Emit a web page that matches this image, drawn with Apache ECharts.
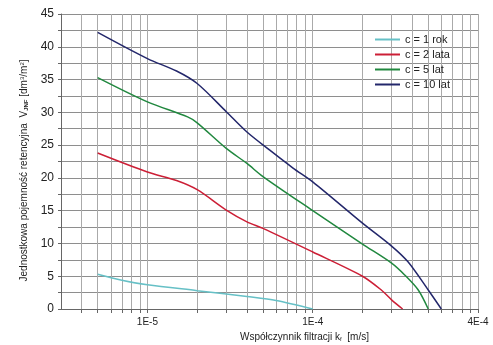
<!DOCTYPE html>
<html>
<head>
<meta charset="utf-8">
<script src="https://cdn.jsdelivr.net/npm/echarts@6/dist/echarts.min.js"></script>
<style>
    html, body { margin: 0; padding: 0; background: #fff; }
    #main { width: 493px; height: 345px; }
</style>
</head>
<body>
<div id="main"></div>
<script>
// dane: [k_f (m/s), V_JNF (dm3/m2)]
var seriesNames = ['c = 1 rok', 'c = 2 lata', 'c = 5 lat', 'c = 10 lat'];
var seriesColors = ['#66c0c6', '#cc1f36', '#21883f', '#23276b'];

var c1 = [[5e-6, 5.3], [7e-6, 4.4], [1e-5, 3.7], [2e-5, 2.8], [4e-5, 1.9], [6e-5, 1.3], [1e-4, 0]];
var c2 = [[5e-6, 23.8], [1e-5, 20.9], [1.5e-5, 19.6], [2e-5, 18.2], [3e-5, 15.1], [4e-5, 13.3], [5e-5, 12.3],
          [1e-4, 8.7], [2e-4, 5.0], [2.6e-4, 2.9], [3e-4, 1.4], [3.5e-4, 0]];
var c5 = [[5e-6, 35.3], [1e-5, 31.6], [1.75e-5, 29.3], [2e-5, 28.4], [3e-5, 24.5], [4e-5, 22.2], [5e-5, 20.2],
          [1e-4, 15.0], [2e-4, 9.9], [3e-4, 7.0], [3.6e-4, 5.2], [4.35e-4, 2.9], [5e-4, 0]];
var c10 = [[5e-6, 42.2], [1e-5, 38.2], [1.5e-5, 36.3], [2e-5, 34.4], [3e-5, 30.1], [4e-5, 27.0], [5.45e-5, 24.3],
           [7.6e-5, 21.5], [1e-4, 19.4], [2e-4, 13.1], [3e-4, 9.6], [3.77e-4, 7.2], [5e-4, 2.9], [6e-4, 0]];
var seriesData = [c1, c2, c5, c10];

// linie siatki osi X (skala logarytmiczna) i opisy
var xGridValues = [4e-6, 5e-6, 6e-6, 7e-6, 8e-6, 9e-6,
                   1e-5, 2e-5, 3e-5, 4e-5, 5e-5, 6e-5, 7e-5, 8e-5, 9e-5,
                   1e-4, 2e-4, 3e-4, 4e-4, 5e-4, 6e-4, 7e-4, 8e-4, 9e-4, 1e-3];
var xLabelValues = [1e-5, 1e-4, 1e-3];
var xLabelTexts = ['1E-5', '1E-4', '4E-4'];

var font = 'Liberation Sans';

var series = [];
for (var i = 0; i < seriesData.length; i++) {
    series.push({
        name: seriesNames[i],
        type: 'line',
        data: seriesData[i],
        smooth: 0.3,
        symbol: 'none',
        lineStyle: { color: seriesColors[i], width: 1.5 },
        itemStyle: { color: seriesColors[i] }
    });
}

var myChart = echarts.init(document.getElementById('main'));
var option = {
    animation: false,
    backgroundColor: '#fff',
    grid: { left: 61, right: 15, top: 14, bottom: 36, outerBoundsMode: 'none' },
    legend: {
        orient: 'vertical',
        left: 370,
        top: 29,
        icon: 'rect',
        itemWidth: 25,
        itemHeight: 2,
        itemGap: 4,
        textStyle: { fontFamily: font, fontSize: 11, color: '#222' },
        data: seriesNames
    },
    xAxis: {
        type: 'log',
        logBase: 10,
        min: 3e-6,
        max: 1e-3,
        name: 'Współczynnik filtracji k{sub|f}  [m/s]',
        nameLocation: 'middle',
        nameGap: 20,
        nameTextStyle: {
            fontFamily: font, fontSize: 10, color: '#222',
            padding: [0, 0, 0, 70],
            rich: { sub: { fontFamily: font, fontSize: 6, verticalAlign: 'bottom', padding: [4, 0, 0, 0] } }
        },
        axisLine: { show: true, lineStyle: { color: '#666', width: 1 } },
        axisTick: { show: true, length: 4, customValues: xGridValues, lineStyle: { color: '#666' } },
        axisLabel: {
            customValues: xLabelValues,
            margin: 8,
            fontFamily: font, fontSize: 10, color: '#222',
            formatter: function (v) {
                for (var j = 0; j < xLabelValues.length; j++) {
                    if (Math.abs(Math.log10(v) - Math.log10(xLabelValues[j])) < 1e-6) return xLabelTexts[j];
                }
                return '';
            }
        },
        splitLine: { show: true, lineStyle: { color: '#aaa', width: 1 } },
        minorTick: { show: false },
        minorSplitLine: { show: false }
    },
    yAxis: {
        type: 'value',
        min: 0,
        max: 45,
        interval: 5,
        name: 'Jednostkowa pojemność retencyjna  V{sub|JNF} [dm{sup|3}/m{sup|2}]',
        nameLocation: 'middle',
        nameGap: 32,
        nameTextStyle: {
            fontFamily: font, fontSize: 10, color: '#222',
            padding: [0, 18, 0, 0],
            rich: {
                sub: { fontFamily: font, fontSize: 6, fontWeight: 'bold', verticalAlign: 'bottom', padding: [4, 0, 0, 0] },
                sup: { fontFamily: font, fontSize: 6, verticalAlign: 'top', padding: [0, 0, 4, 0] }
            }
        },
        axisLine: { show: true, lineStyle: { color: '#666', width: 1 } },
        axisTick: { show: true, length: 3, lineStyle: { color: '#666' } },
        minorTick: { show: true, splitNumber: 2, length: 3, lineStyle: { color: '#666' } },
        axisLabel: { margin: 7, fontFamily: font, fontSize: 12, color: '#222' },
        splitLine: { show: true, lineStyle: { color: '#8e8e8e', width: 1 } },
        minorSplitLine: { show: true, lineStyle: { color: '#8e8e8e', width: 1 } }
    },
    series: series
};
myChart.setOption(option);
</script>
</body>
</html>
